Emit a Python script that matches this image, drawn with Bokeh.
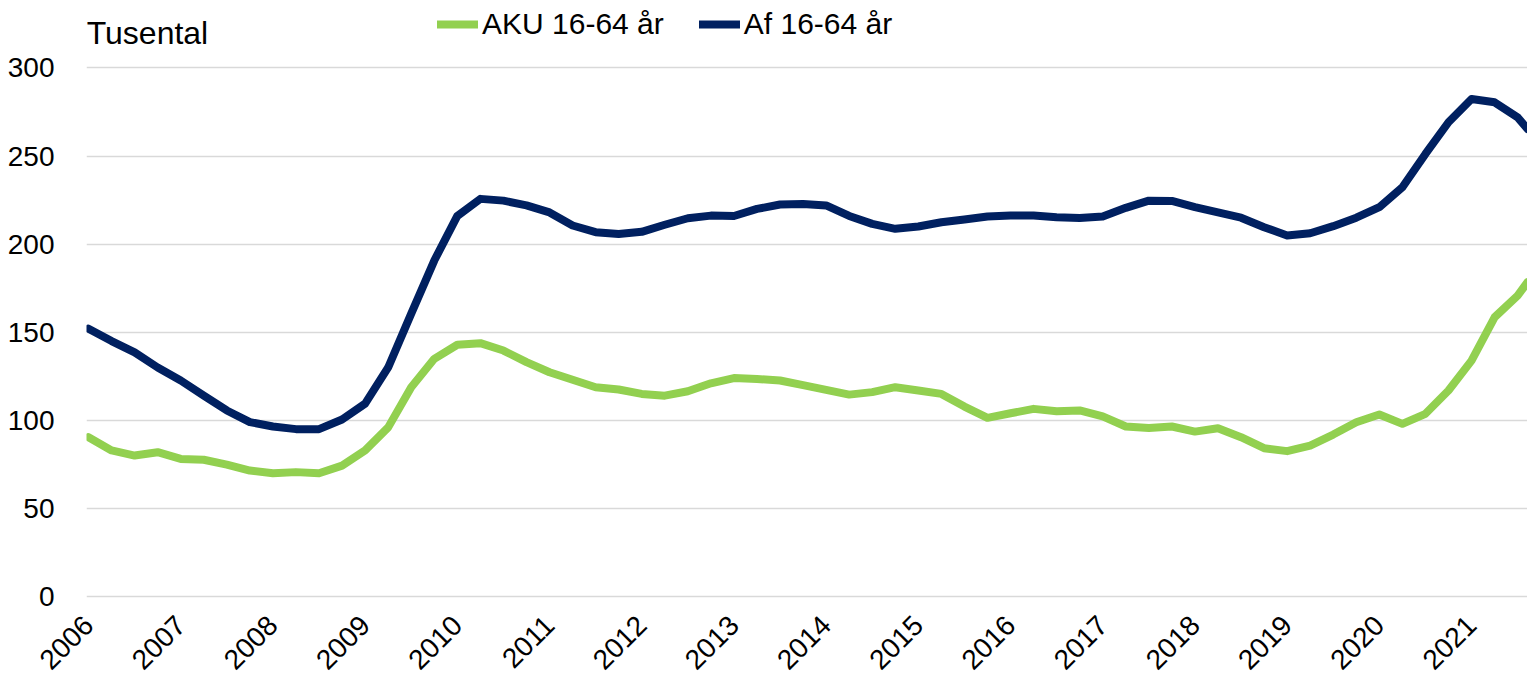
import math
from bokeh.plotting import figure
from bokeh.models import (FixedTicker, Label, Legend, LegendItem, Range1d)
from bokeh.embed import file_html
from bokeh.resources import INLINE

# ---- data (thousands), quarterly from 2006 Q1, last point at the right edge ----
periods = [2006 + i / 4 for i in range(63)] + [2021.607]

aku_16_64 = [90.4, 82.9, 80.0, 81.9, 78.1, 77.6, 74.9, 71.5, 70.0, 70.6,
             70.0, 74.3, 82.9, 96.0, 118.8, 134.9, 142.9, 143.8, 139.6, 133.0,
             127.3, 123.0, 118.8, 117.5, 115.0, 114.0, 116.5, 121.0, 124.0, 123.5,
             122.6, 120.0, 117.3, 114.6, 116.0, 118.8, 116.9, 115.0, 107.8, 101.4,
             104.0, 106.5, 105.2, 105.6, 102.2, 96.5, 95.7, 96.5, 93.6, 95.5,
             90.4, 84.2, 82.5, 85.7, 91.9, 98.9, 103.3, 98.0, 103.7, 116.9,
             133.9, 158.5, 170.8, 178.4]

af_16_64 = [152.0, 145.0, 138.6, 130.0, 122.6, 114.0, 105.6, 99.0, 96.5, 95.0,
            95.0, 100.5, 109.5, 130.0, 160.6, 190.7, 216.0, 225.7, 224.7, 222.0,
            218.0, 210.6, 206.8, 205.8, 207.0, 211.0, 214.7, 216.2, 216.0, 220.0,
            222.5, 222.8, 222.0, 216.0, 211.5, 208.7, 210.0, 212.4, 214.0, 215.7,
            216.2, 216.2, 215.3, 214.9, 215.7, 220.6, 224.7, 224.5, 221.0, 218.0,
            215.0, 209.6, 204.9, 206.2, 210.2, 215.0, 221.0, 232.3, 251.2, 269.2,
            282.4, 280.5, 272.0, 265.4]

year_ticks = list(range(2006, 2022))
year_labels = [str(y) for y in year_ticks]
y_ticks = [0, 50, 100, 150, 200, 250, 300]

series_names = ["AKU 16-64 år", "Af 16-64 år"]
GREEN = "#92D050"
NAVY = "#002060"
FONT = "Liberation Sans"

p = figure(width=1527, height=681, output_backend="svg", toolbar_location=None,
           x_range=Range1d(2005.978, 2021.607), y_range=Range1d(-1.135, 338.3),
           min_border_left=86, min_border_right=0, min_border_top=0,
           min_border_bottom=83)
p.outline_line_color = None
p.background_fill_color = "white"
p.border_fill_color = "white"

g = p.line(periods, aku_16_64, line_color=GREEN, line_width=8,
           line_join="round", line_cap="round")
n = p.line(periods, af_16_64, line_color=NAVY, line_width=8,
           line_join="round", line_cap="round")

# grid
p.xgrid.grid_line_color = None
p.ygrid.ticker = FixedTicker(ticks=y_ticks)
p.ygrid.grid_line_color = "#D9D9D9"
p.ygrid.grid_line_width = 1.5

# y axis
p.yaxis.ticker = FixedTicker(ticks=y_ticks)
p.yaxis.axis_line_color = None
p.yaxis.major_tick_line_color = None
p.yaxis.minor_tick_line_color = None
p.yaxis.major_label_standoff = 26
p.yaxis.major_label_text_font = FONT
p.yaxis.major_label_text_font_size = "28px"
p.yaxis.major_label_text_color = "black"

# x axis
p.xaxis.ticker = FixedTicker(ticks=year_ticks)
p.xaxis.major_label_overrides = {t: l for t, l in zip(year_ticks, year_labels)}
p.xaxis.axis_line_color = None
p.xaxis.major_tick_line_color = None
p.xaxis.minor_tick_line_color = None
p.xaxis.major_label_orientation = math.pi / 4
p.xaxis.major_label_standoff = 16
p.xaxis.major_label_text_font = FONT
p.xaxis.major_label_text_font_size = "28px"
p.xaxis.major_label_text_color = "black"

# unit label
p.add_layout(Label(x=2005.98, y=320.0, text="Tusental", text_font=FONT,
                   text_font_size="32px", text_color="black",
                   text_baseline="alphabetic"))

legend = Legend(items=[LegendItem(label=series_names[0], renderers=[g]),
                       LegendItem(label=series_names[1], renderers=[n])],
                orientation="horizontal", location=(351, 554),
                glyph_width=41, glyph_height=40, label_height=40,
                label_standoff=4, spacing=35, padding=0, margin=0,
                border_line_color=None, background_fill_alpha=0,
                label_text_font=FONT,
                label_text_font_size="30px", label_text_color="black")
p.add_layout(legend, "center")

open("out.html", "w").write(file_html(p, INLINE))
